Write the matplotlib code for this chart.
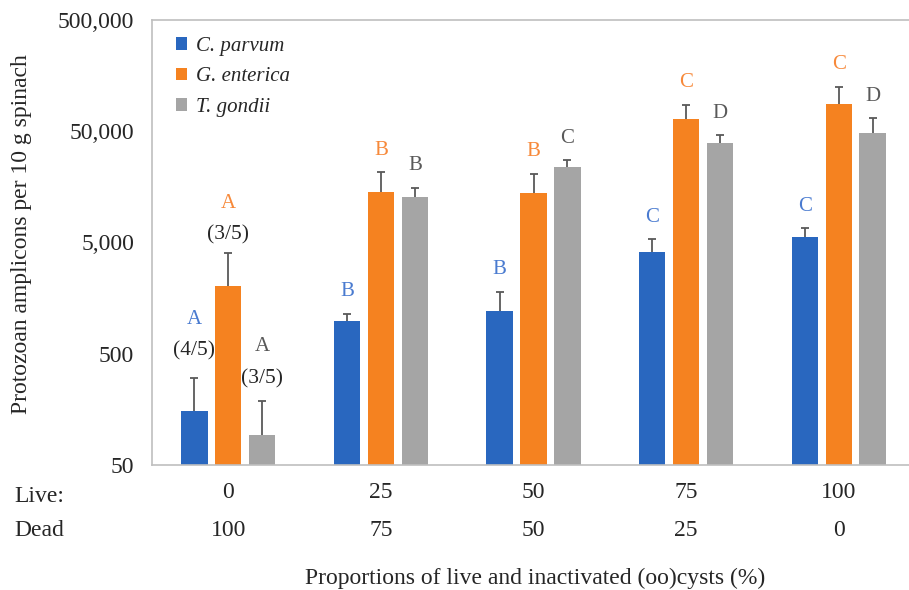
import numpy as np
import matplotlib
matplotlib.use("Agg")
import matplotlib.pyplot as plt
from matplotlib.transforms import blended_transform_factory

plt.rcParams['font.family'] = ['Liberation Serif', 'DejaVu Serif']

# ---- data ----
live_pct = ["0", "25", "50", "75", "100"]
dead_pct = ["100", "75", "50", "25", "0"]
species = ["C. parvum", "G. enterica", "T. gondii"]

c_parvum = [154, 985, 1210, 4080, 5600]
g_enterica = [2030, 14300, 13800, 64000, 88000]
t_gondii = [93, 12700, 24000, 39200, 48200]

c_parvum_err = [151, 160, 595, 1260, 1100]
g_enterica_err = [1970, 7000, 6900, 22700, 37600]
t_gondii_err = [95, 2850, 3400, 6800, 17200]

c_parvum_sig = ["A", "B", "B", "C", "C"]
g_enterica_sig = ["A", "B", "B", "C", "C"]
t_gondii_sig = ["A", "B", "C", "D", "D"]

# positives out of replicates, shown where not all samples were detected
c_parvum_frac = ["(4/5)", "", "", "", ""]
g_enterica_frac = ["(3/5)", "", "", "", ""]
t_gondii_frac = ["(3/5)", "", "", "", ""]

# ---- styling ----
bar_colors = ["#2967BF", "#F58220", "#A5A5A5"]
letter_colors = ["#4A7BD0", "#F7893A", "#595959"]
err_color = "#595959"
spine_color = "#BFBFBF"
text_color = "#262626"
fs = 17

fig = plt.figure(figsize=(9.09, 5.90), dpi=100)
ax = fig.add_axes([152 / 909, 1 - 465 / 590, 763 / 909, 445 / 590])

x = np.arange(len(live_pct))
width = 0.173
step = 0.2225

series = [
    (c_parvum, c_parvum_err, c_parvum_sig, c_parvum_frac),
    (g_enterica, g_enterica_err, g_enterica_sig, g_enterica_frac),
    (t_gondii, t_gondii_err, t_gondii_sig, t_gondii_frac),
]
frac_offsets = [19, 13, 16]

for i, (vals, errs, sig, frac) in enumerate(series):
    xs = x + (i - 1) * step
    vals = np.array(vals, dtype=float)
    errs = np.array(errs, dtype=float)
    ax.bar(xs, vals, width=width, bottom=0, color=bar_colors[i],
           label=species[i], zorder=2)
    ax.vlines(xs, vals, vals + errs, color=err_color, lw=1.3, zorder=3)
    ax.plot(xs, vals + errs, ls="none", marker="_", ms=6, mew=1.3,
            color=err_color, zorder=3)
    for xi, top, s, f in zip(xs, vals + errs, sig, frac):
        if f:
            off = frac_offsets[i]
            ax.annotate(f, (xi, top), xytext=(0, off), textcoords="offset points",
                        ha="center", va="center", fontsize=15.5, color=text_color)
            ax.annotate(s, (xi, top), xytext=(0, off + 23), textcoords="offset points",
                        ha="center", va="center", fontsize=15,
                        color=letter_colors[i])
        else:
            ax.annotate(s, (xi, top), xytext=(0, 16), textcoords="offset points",
                        ha="center", va="center", fontsize=15,
                        color=letter_colors[i])

ax.set_yscale("log")
ax.set_ylim(50, 500000)
ax.set_xlim(-0.5, len(live_pct) - 0.5)
yticks = [50, 500, 5000, 50000, 500000]
ax.set_yticks(yticks)
ax.set_yticklabels([f"{v:,}" for v in yticks])
ax.yaxis.set_minor_locator(matplotlib.ticker.NullLocator())
ax.tick_params(axis="y", length=0, pad=13, labelsize=fs, colors=text_color)

ax.set_xticks(x)
ax.set_xticklabels(live_pct)
ax.tick_params(axis="x", length=0, pad=12, labelsize=fs, colors=text_color)

trans = blended_transform_factory(ax.transData, fig.transFigure)
for xi, d in zip(x, dead_pct):
    ax.text(xi, 1 - 530 / 590, d, transform=trans, ha="center", va="center",
            fontsize=fs, color=text_color)
fig.text(14 / 909, 1 - 497 / 590, "Live:", ha="left", va="center",
         fontsize=fs, color=text_color)
fig.text(14 / 909, 1 - 530 / 590, "Dead", ha="left", va="center",
         fontsize=fs, color=text_color)

fig.text(535 / 909, 1 - 578 / 590, "Proportions of live and inactivated (oo)cysts (%)",
         ha="center", va="center", fontsize=fs, color=text_color)
fig.text(22 / 909, 1 - 234 / 590, "Protozoan amplicons per 10 g spinach",
         ha="center", va="center", rotation=90, fontsize=fs, color=text_color)

for side in ["left", "top", "bottom"]:
    ax.spines[side].set_color(spine_color)
    ax.spines[side].set_linewidth(1.2)
ax.spines["right"].set_visible(False)

leg = ax.legend(loc="upper left", bbox_to_anchor=(0.012, 0.995), frameon=False,
                prop={"style": "italic", "size": 15}, handlelength=0.55,
                handleheight=0.55, handletextpad=0.4, labelspacing=0.55,
                borderaxespad=0.3)
for t in leg.get_texts():
    t.set_color(text_color)

fig.savefig("out.png", dpi=100, facecolor="white")
